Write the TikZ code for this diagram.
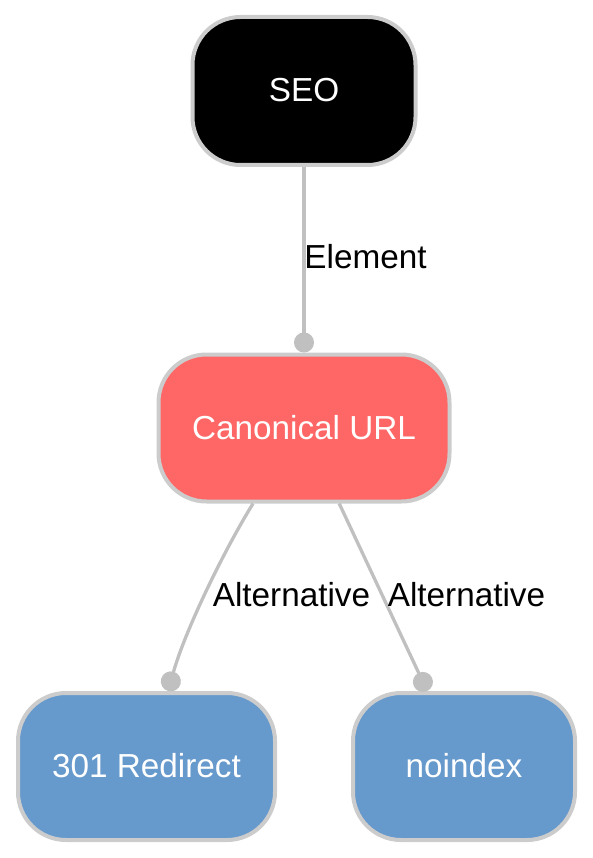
\documentclass[tikz,border=0pt]{standalone}
\usepackage{fontspec}
\setmainfont{Liberation Sans}
\usetikzlibrary{arrows.meta}
\definecolor{edgegray}{HTML}{C0C0C0}
\definecolor{bordergray}{HTML}{CCCCCC}
\definecolor{redfill}{HTML}{FF6666}
\definecolor{bluefill}{HTML}{6699CC}
\tikzset{
  box/.style={draw=bordergray, line width=4pt, rounded corners=48pt, text=white,
    font=\fontsize{33.3}{40}\selectfont, inner sep=0pt, minimum height=147pt},
  edgeline/.style={draw=edgegray, line width=3.3pt, -{Circle[length=20pt]}},
  elabel/.style={font=\fontsize{33.3}{40}\selectfont, text=black, inner sep=0pt}
}
\begin{document}
\begin{tikzpicture}[x=1pt,y=-1pt]
\useasboundingbox (0,0) rectangle (592,858);
\node[box, fill=black, minimum width=223pt, minimum height=148pt] (seo) at (304,91) {\raisebox{2.5pt}{SEO}};
\node[box, fill=redfill, minimum width=291pt] (canon) at (304,428) {\raisebox{2pt}{Canonical URL}};
\node[box, fill=bluefill, minimum width=257pt] (r301) at (146.5,766.5) {\raisebox{2pt}{301 Redirect}};
\node[box, fill=bluefill, minimum width=222pt] (noidx) at (464,766.5) {\raisebox{2pt}{noindex}};
\draw[edgeline] (seo.south) -- (canon.north);
\draw[edgeline] (canon.236) .. controls +(-28,45) and +(17,-61) .. (r301.74);
\draw[edgeline] (canon.295.7) -- (noidx.116.7);
\node[elabel] (l1) at (365.5,257) {Element};
\node[elabel] (l2) at (291.5,595) {Alternative};
\node[elabel] (l3) at (466.5,595) {Alternative};
\end{tikzpicture}
\end{document}
